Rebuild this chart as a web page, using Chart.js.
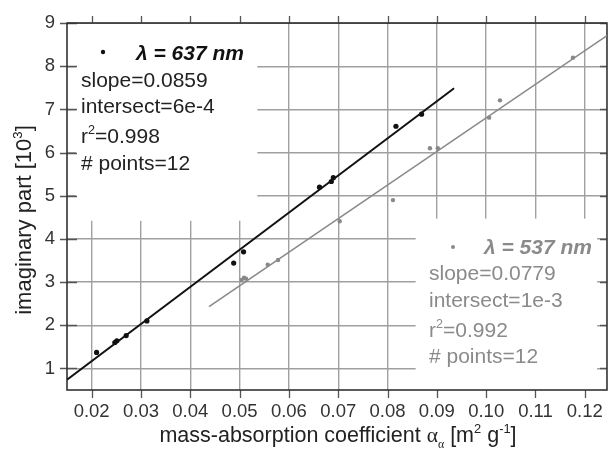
<!DOCTYPE html>
<html>
<head>
<meta charset="utf-8">
<script src="https://cdn.jsdelivr.net/npm/chart.js@4/dist/chart.umd.min.js"></script>
<style>
  html, body { margin: 0; padding: 0; background: #fff; }
  #wrap { width: 614px; height: 452px; }
</style>
</head>
<body>
<div id="wrap"><canvas id="aChart" width="614" height="452"></canvas></div>
<script>
// measured points, 637 nm (black) and 537 nm (grey)
var redX = [0.0210, 0.0247, 0.0251, 0.0270, 0.0312, 0.0488, 0.0508, 0.0662, 0.0686, 0.0690, 0.0817, 0.0869];
var redY = [1.37, 1.60, 1.64, 1.76, 2.10, 3.44, 3.70, 5.20, 5.33, 5.42, 6.61, 6.89];
var greenX = [0.0504, 0.0509, 0.0513, 0.0557, 0.0578, 0.0703, 0.0811, 0.0886, 0.0902, 0.1006, 0.1028, 0.1176];
var greenY = [3.05, 3.10, 3.08, 3.40, 3.51, 4.41, 4.90, 6.10, 6.10, 6.81, 7.21, 8.20];

// fit lines (end points)
var redFitX = [0.0150, 0.0935];
var redFitY = [0.74, 7.49];
var greenFitX = [0.0438, 0.1245];
var greenFitY = [2.43, 8.71];

var xTicks = [0.02, 0.03, 0.04, 0.05, 0.06, 0.07, 0.08, 0.09, 0.10, 0.11, 0.12];
var yTicks = [1, 2, 3, 4, 5, 6, 7, 8, 9];

var redLabel = 'λ = 637 nm';
var redStats = ['slope=0.0859', 'intersect=6e-4', '0.998', '# points=12'];
var greenLabel = 'λ = 537 nm';
var greenStats = ['slope=0.0779', 'intersect=1e-3', '0.992', '# points=12'];

function pts(xs, ys) {
    return xs.map(function (x, i) { return { x: x, y: ys[i] }; });
}

var FONT = '"Liberation Sans", Arial, sans-serif';

function runs(ctx, list, x, y, size, color) {
    ctx.fillStyle = color;
    ctx.textAlign = 'left';
    ctx.textBaseline = 'alphabetic';
    list.forEach(function (r) {
        var s = size, dy = 0, fam = r.fam || FONT;
        if (r.sup) { s = size * 0.6; dy = -size * 0.42; }
        if (r.sub) { s = size * 0.55; dy = size * 0.3; }
        ctx.font = (r.style || '') + ' ' + s + 'px ' + fam;
        ctx.fillText(r.t, x, y + dy);
        x += ctx.measureText(r.t).width;
    });
    return x;
}

function runsWidth(ctx, list, size) {
    var w = 0;
    list.forEach(function (r) {
        var s = size;
        if (r.sup) s = size * 0.6;
        if (r.sub) s = size * 0.55;
        ctx.font = (r.style || '') + ' ' + s + 'px ' + (r.fam || FONT);
        w += ctx.measureText(r.t).width;
    });
    return w;
}

var frame = {
    id: 'frame',
    beforeDatasetsDraw: function (chart) {
        var ctx = chart.ctx, a = chart.chartArea;
        var xs = chart.scales.x, ys = chart.scales.y;
        ctx.save();
        // white backgrounds behind the two text blocks
        ctx.fillStyle = '#fff';
        var b1l = xs.getPixelForValue(0.0168), b1r = xs.getPixelForValue(0.0536), b1b = ys.getPixelForValue(4.42);
        ctx.fillRect(b1l, a.top, b1r - b1l, b1b - a.top);
        var b2l = xs.getPixelForValue(0.0857), b2r = xs.getPixelForValue(0.1225), b2t = ys.getPixelForValue(4.47);
        ctx.fillRect(b2l, b2t, b2r - b2l, a.bottom - b2t);

        ctx.strokeStyle = '#555';
        ctx.lineWidth = 1.3;
        ctx.beginPath();
        xTicks.forEach(function (v) {
            var p = Math.round(xs.getPixelForValue(v)) + 0.5;
            ctx.moveTo(p, a.top - 7); ctx.lineTo(p, a.top);
            ctx.moveTo(p, a.bottom); ctx.lineTo(p, a.bottom + 8);
        });
        yTicks.forEach(function (v) {
            var p = Math.round(ys.getPixelForValue(v)) + 0.5;
            ctx.moveTo(a.left - 7, p); ctx.lineTo(a.left + 10, p);
            ctx.moveTo(a.right - 7, p); ctx.lineTo(a.right, p);
        });
        ctx.stroke();

        ctx.strokeStyle = '#333';
        ctx.lineWidth = 1.6;
        ctx.strokeRect(a.left, a.top, a.right - a.left, a.bottom - a.top);
        ctx.restore();
    },
    afterDraw: function (chart) {
        var ctx = chart.ctx, a = chart.chartArea;
        ctx.save();
        var size = 21;

        // 637 nm block
        ctx.fillStyle = '#111';
        ctx.beginPath(); ctx.arc(103, 52, 2.2, 0, Math.PI * 2); ctx.fill();
        runs(ctx, [{ t: redLabel, style: 'italic bold' }], 136, 60, size, '#111');
        runs(ctx, [{ t: redStats[0] }], 81, 87, size, '#222');
        runs(ctx, [{ t: redStats[1] }], 81, 113, size, '#222');
        runs(ctx, [{ t: 'r' }, { t: '2', sup: true }, { t: '=' + redStats[2] }], 81, 143, size, '#222');
        runs(ctx, [{ t: redStats[3] }], 81, 170, size, '#222');

        // 537 nm block
        var g = '#8a8a8a';
        ctx.fillStyle = g;
        ctx.beginPath(); ctx.arc(453, 247, 2, 0, Math.PI * 2); ctx.fill();
        runs(ctx, [{ t: greenLabel, style: 'italic bold' }], 484, 254, size, g);
        runs(ctx, [{ t: greenStats[0] }], 429, 280, size, g);
        runs(ctx, [{ t: greenStats[1] }], 429, 307, size, g);
        runs(ctx, [{ t: 'r' }, { t: '2', sup: true }, { t: '=' + greenStats[2] }], 429, 337, size, g);
        runs(ctx, [{ t: greenStats[3] }], 429, 363, size, g);

        // x axis title
        var xt = [
            { t: 'mass-absorption coefficient ' },
            { t: 'α', fam: '"Liberation Serif", serif' },
            { t: 'α', sub: true, fam: '"Liberation Serif", serif' },
            { t: ' [m' }, { t: '2', sup: true }, { t: ' g' }, { t: '-1', sup: true }, { t: ']' }
        ];
        var w = runsWidth(ctx, xt, 21.5);
        runs(ctx, xt, 338 - w / 2, 442, 21.5, '#222');

        // y axis title
        var yt = [{ t: 'imaginary part [10' }, { t: '3', sup: true }, { t: ']' }];
        ctx.translate(23, 220);
        ctx.rotate(-Math.PI / 2);
        var wy = runsWidth(ctx, yt, 22);
        runs(ctx, yt, -wy / 2, 8, 22, '#222');
        ctx.restore();
    }
};

new Chart(document.getElementById('aChart'), {
    type: 'scatter',
    data: {
        datasets: [
            {
                data: pts(redFitX, redFitY),
                showLine: true,
                borderColor: '#111',
                borderWidth: 2,
                pointRadius: 0
            },
            {
                data: pts(greenFitX, greenFitY),
                showLine: true,
                borderColor: '#8a8a8a',
                borderWidth: 1.6,
                pointRadius: 0
            },
            {
                data: pts(redX, redY),
                backgroundColor: '#111',
                borderWidth: 0,
                pointRadius: 2.6
            },
            {
                data: pts(greenX, greenY),
                backgroundColor: '#888',
                borderWidth: 0,
                pointRadius: 2.2
            }
        ]
    },
    options: {
        responsive: false,
        animation: false,
        layout: { padding: { top: 14, right: 5, left: 0, bottom: 0 } },
        plugins: {
            legend: { display: false },
            tooltip: { enabled: false }
        },
        scales: {
            x: {
                type: 'linear',
                min: 0.015,
                max: 0.1245,
                afterBuildTicks: function (s) { s.ticks = xTicks.map(function (v) { return { value: v }; }); },
                afterFit: function (s) { s.height = 62; },
                grid: { color: '#a0a0a0', lineWidth: 1.4, drawTicks: false },
                border: { display: false },
                ticks: {
                    padding: 11,
                    color: '#333',
                    font: { family: FONT, size: 18.5 },
                    maxRotation: 0,
                    callback: function (v) { return v.toFixed(2); }
                }
            },
            y: {
                type: 'linear',
                min: 0.5,
                max: 9,
                afterBuildTicks: function (s) { s.ticks = yTicks.map(function (v) { return { value: v }; }); },
                afterFit: function (s) { s.width = 67; },
                grid: { color: '#a0a0a0', lineWidth: 1.4, drawTicks: false },
                border: { display: false },
                ticks: {
                    padding: 12,
                    color: '#333',
                    font: { family: FONT, size: 18.5 },
                    callback: function (v) { return v; }
                }
            }
        }
    },
    plugins: [frame]
});
</script>
</body>
</html>
